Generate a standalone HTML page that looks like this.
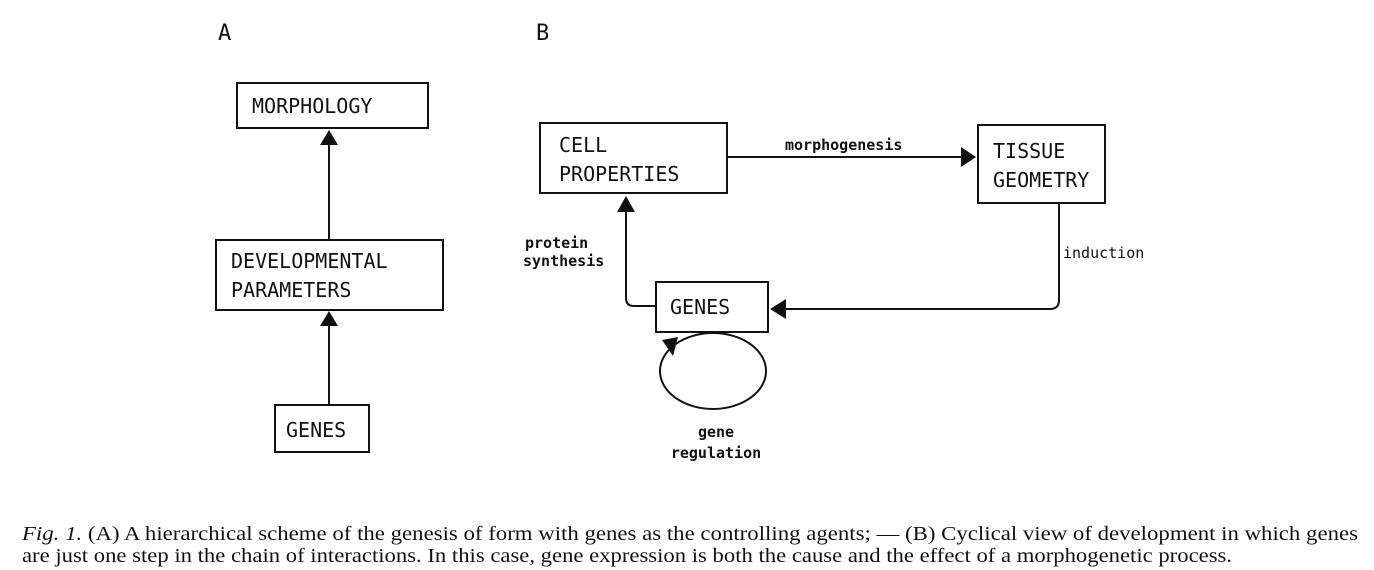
<!DOCTYPE html>
<html><head><meta charset="utf-8"><style>
html,body{margin:0;padding:0;background:#fff;}
svg{display:block;}
.d{font-family:"DejaVu Sans Mono","Liberation Mono",monospace;font-size:20px;fill:#111;}
.s{font-family:"DejaVu Sans Mono","Liberation Mono",monospace;font-size:15px;fill:#111;font-weight:bold;}
.c{font-family:"Liberation Serif",serif;font-size:20px;fill:#111;}
</style></head><body>
<svg width="1374" height="570" viewBox="0 0 1374 570" xmlns="http://www.w3.org/2000/svg">
<g fill="none" stroke="#111" stroke-width="2">
<rect x="237" y="83" width="191" height="45"/>
<rect x="216" y="240" width="227" height="70"/>
<rect x="275" y="405" width="94" height="47"/>
<line x1="329" y1="405" x2="329" y2="325"/>
<line x1="329" y1="240" x2="329" y2="143"/>
<rect x="540" y="123" width="187" height="70"/>
<rect x="978" y="125" width="127" height="78"/>
<rect x="656" y="282" width="112" height="50"/>
<line x1="727" y1="157" x2="962" y2="157"/>
<path d="M1059 203 V300 Q1059 309 1050 309 H785"/>
<path d="M656 306 H634 Q626 306 626 298 V210"/>
<ellipse cx="713" cy="371" rx="53" ry="38"/>
</g>
<g fill="#111">
<polygon points="329,130 320,145 338,145"/>
<polygon points="329,311 320,326 338,326"/>
<polygon points="626,196 617,212 635,212"/>
<polygon points="976,157 961,147 961,167"/>
<polygon points="770,309 786,299 786,319"/>
<polygon points="662,340 678,337 673,356"/>
</g>
<text x="218" y="40" class="d" style="font-size:22px">A</text>
<text x="536" y="40" class="d" style="font-size:22px">B</text>
<text x="252" y="113" class="d">MORPHOLOGY</text>
<text x="231" y="268" class="d">DEVELOPMENTAL</text>
<text x="231" y="297" class="d">PARAMETERS</text>
<text x="286" y="437" class="d">GENES</text>
<text x="559" y="152" class="d">CELL</text>
<text x="559" y="181" class="d">PROPERTIES</text>
<text x="993" y="158" class="d">TISSUE</text>
<text x="993" y="187" class="d">GEOMETRY</text>
<text x="670" y="314" class="d">GENES</text>
<text x="785" y="150" class="s">morphogenesis</text>
<text x="1063" y="258" class="s" style="font-weight:normal">induction</text>
<text x="525" y="248" class="s">protein</text>
<text x="523" y="266" class="s">synthesis</text>
<text x="716" y="437" class="s" text-anchor="middle">gene</text>
<text x="716" y="458" class="s" text-anchor="middle">regulation</text>
<text x="22" y="540" class="c" textLength="1336" lengthAdjust="spacingAndGlyphs"><tspan font-style="italic">Fig. 1.</tspan> (A) A hierarchical scheme of the genesis of form with genes as the controlling agents; — (B) Cyclical view of development in which genes</text>
<text x="22" y="562" class="c" textLength="1210" lengthAdjust="spacingAndGlyphs">are just one step in the chain of interactions. In this case, gene expression is both the cause and the effect of a morphogenetic process.</text>
</svg>
</body></html>
